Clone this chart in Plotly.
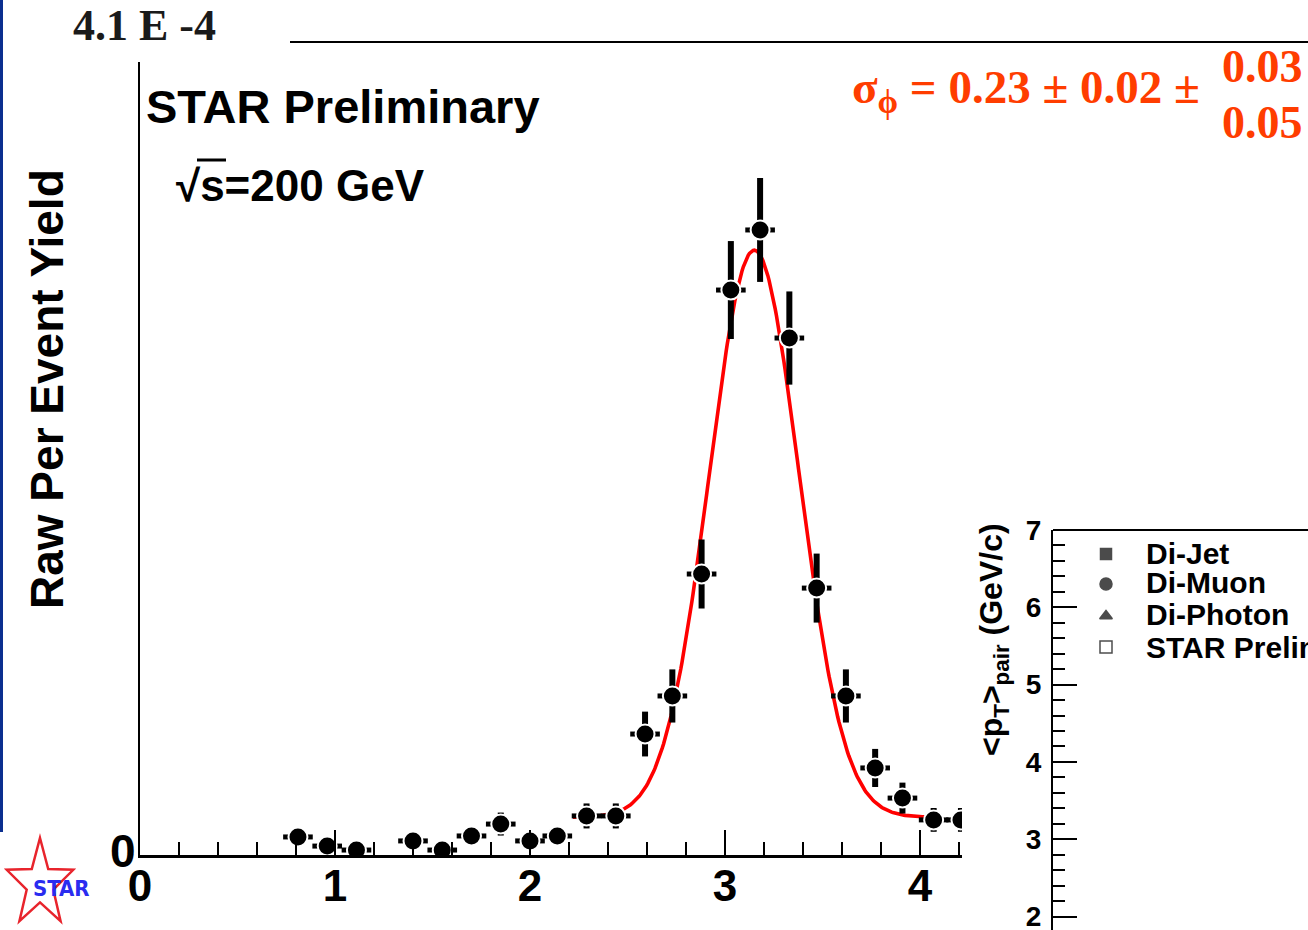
import numpy as np
import plotly.graph_objects as go

W, H = 1308, 930

# ---- Δφ distribution: bin centres (rad), raw per-event yield and errors (units of 1e-4)
dphi = [0.81, 0.96, 1.11, 1.40, 1.55, 1.70, 1.85, 2.00, 2.14, 2.29, 2.44, 2.59,
        2.73, 2.88, 3.03, 3.18, 3.33, 3.47, 3.62, 3.77, 3.91, 4.07, 4.21]
yield_e4 = [0.091, 0.045, 0.025, 0.071, 0.025, 0.096, 0.156, 0.071, 0.096, 0.197,
            0.197, 0.610, 0.802, 1.417, 2.849, 3.152, 2.607, 1.346, 0.802, 0.439,
            0.287, 0.177, 0.177]
yield_err_e4 = [0.040, 0.040, 0.040, 0.040, 0.040, 0.040, 0.058, 0.040, 0.040, 0.063,
                0.063, 0.113, 0.134, 0.174, 0.247, 0.262, 0.235, 0.174, 0.134, 0.096,
                0.078, 0.060, 0.060]
dphi_half_bin = 0.076

# ---- Gaussian + constant fit of the away-side peak
fit_mean = 3.15
fit_sigma = 0.23
fit_amp = 2.86
fit_base = 0.19
fit_lo, fit_hi = 2.22, 4.10

x_ticks = [0, 1, 2, 3, 4]

# ---- inset <pT>pair panel
inset_labels = ["Di-Jet", "Di-Muon", "Di-Photon", "STAR Preliminary"]
inset_symbols = ["square", "circle", "triangle-up", "square-open"]
inset_yticks = [2, 3, 4, 5, 6, 7]


def fx(px):
    return px / W


def fy(py):
    return 1 - py / H


# main panel geometry (pixels)
X0, X1, Y0, Y1 = 140, 962, 855, 62
PX_PER_X = 195.0
PX_PER_Y = 198.3

fit_x = np.linspace(fit_lo, fit_hi, 300)
fit_y = fit_base + fit_amp * np.exp(-0.5 * ((fit_x - fit_mean) / fit_sigma) ** 2)

SANS = "Liberation Sans, Arial, Helvetica, sans-serif"
SERIF = "Liberation Serif, Times New Roman, serif"
RED = "#ff3d00"

fig = go.Figure()

fig.add_trace(go.Scatter(
    x=fit_x, y=fit_y, mode="lines",
    line=dict(color="#ff0000", width=3.6),
    hoverinfo="skip", showlegend=False,
))

fig.add_trace(go.Scatter(
    x=dphi, y=yield_e4, mode="markers",
    marker=dict(size=19, color="black", line=dict(color="white", width=2)),
    error_y=dict(type="data", array=yield_err_e4, thickness=6, width=0, color="black"),
    error_x=dict(type="constant", value=dphi_half_bin, thickness=5, width=0, color="black"),
    cliponaxis=True, showlegend=False,
))

# inset markers (legend of the <pT>pair panel)
inset_y_px = [554, 584, 616, 647]
inset_ymax = 7.0
inset_px_per = 77.3
inset_ymin = inset_ymax - (H - 530) / inset_px_per
fig.add_trace(go.Scatter(
    x=[(1106 - 1053) / (W - 1053)] * len(inset_labels),
    y=[inset_ymax - (p - 530) / inset_px_per for p in inset_y_px],
    mode="markers",
    marker=dict(symbol=inset_symbols, size=[11, 12, 11, 12], color="black",
                line=dict(color="black", width=1.5)),
    xaxis="x2", yaxis="y2", showlegend=False, hoverinfo="skip",
))

fig.update_layout(
    width=W, height=H, autosize=False,
    margin=dict(l=0, r=0, t=0, b=0, pad=0, autoexpand=False),
    paper_bgcolor="white", plot_bgcolor="rgba(0,0,0,0)",
    showlegend=False,
    xaxis=dict(
        domain=[fx(X0), fx(X1)], range=[0, (X1 - X0) / PX_PER_X],
        showgrid=False, zeroline=False, automargin=False,
        showline=True, linecolor="black", linewidth=3,
        ticks="inside", ticklen=25, tickwidth=2, tickcolor="black",
        tickvals=x_ticks, ticktext=[str(v) for v in x_ticks],
        tickfont=dict(family=SANS, size=44, color="black", weight="bold"),
        ticklabelstandoff=-10,
        minor=dict(dtick=0.2, tick0=0, ticks="inside", ticklen=13, tickwidth=2, tickcolor="black"),
        anchor="y",
    ),
    yaxis=dict(
        domain=[fy(Y0), fy(Y1)], range=[0, (Y0 - Y1) / PX_PER_Y],
        showgrid=False, zeroline=False, automargin=False,
        showline=True, linecolor="black", linewidth=2,
        ticks="", showticklabels=False, anchor="x",
    ),
    xaxis2=dict(domain=[fx(1053), 1.0], range=[0, 1], visible=False, anchor="y2",
                automargin=False),
    yaxis2=dict(
        domain=[0, fy(530)], range=[inset_ymin, inset_ymax],
        showgrid=False, zeroline=False, automargin=False,
        showline=True, linecolor="black", linewidth=2,
        ticks="inside", ticklen=24, tickwidth=2, tickcolor="black",
        tickvals=inset_yticks,
        tickfont=dict(family=SANS, size=28, color="black", weight="bold"),
        ticklabelstandoff=4, ticklabeloverflow="allow",
        minor=dict(dtick=0.2, tick0=0, ticks="inside", ticklen=12, tickwidth=2, tickcolor="black"),
        anchor="x2",
    ),
)

ann = []


def text(x, y, s, size, family=SANS, color="black", xanchor="left", yanchor="middle", angle=0):
    ann.append(dict(
        x=fx(x), y=fy(y), xref="paper", yref="paper", text=s, showarrow=False,
        xanchor=xanchor, yanchor=yanchor, textangle=angle,
        font=dict(family=family, size=size, color=color, weight="bold"),
    ))


text(71, 26, "4.1 E -4", 44, family=SERIF, color="#1a1a1a")
text(47, 389, "Raw Per Event Yield", 46, xanchor="center", angle=-90)
text(138, 851, "0", 46, xanchor="right")
text(144, 107, "STAR Preliminary", 47)
text(174, 186, "√s=200 GeV", 44)

# fit result label
text(1202, 90, "σ<sub>ϕ</sub> = 0.23 ± 0.02 ±", 47, family=SERIF, color=RED, xanchor="right")
text(1220, 67, "0.03", 46, family=SERIF, color=RED)
text(1220, 122, "0.05", 46, family=SERIF, color=RED)

# inset texts
text(993, 639, "&lt;p<sub>T</sub>&gt;<sub>pair</sub> (GeV/c)", 32, xanchor="center", angle=-90)
for lab, yp in zip(inset_labels, [553, 582, 614, 647]):
    text(1144, yp, lab, 30)

# STAR logo text
text(61, 888, "STAR", 22, family="Liberation Sans Narrow, DejaVu Sans Condensed, Arial Narrow, sans-serif",
     color="#2a2cf0", xanchor="center")

fig.update_layout(annotations=ann)

# star outline of the logo
cx, cy, rx, ry, ri = 40, 884, 35, 46, 0.40
pts = []
for k in range(10):
    a = -np.pi / 2 + k * np.pi / 5
    f = 1.0 if k % 2 == 0 else ri
    pts.append((cx + rx * f * np.cos(a), cy + ry * f * np.sin(a)))
star_path = "M " + " L ".join(f"{fx(px):.5f},{fy(py):.5f}" for px, py in pts) + " Z"

shapes = [
    # slide frame strip
    dict(type="rect", xref="paper", yref="paper", x0=0, x1=fx(3), y0=fy(832), y1=1,
         fillcolor="#0b2f8f", line=dict(width=0), layer="above"),
    # rule under the exponent label
    dict(type="line", xref="paper", yref="paper", x0=fx(290), x1=1.0, y0=fy(42), y1=fy(42),
         line=dict(color="black", width=2)),
    # inset top frame
    dict(type="line", xref="paper", yref="paper", x0=fx(1053), x1=1.0, y0=fy(530), y1=fy(530),
         line=dict(color="black", width=2)),
    # bar over the s of √s
    dict(type="line", xref="paper", yref="paper", x0=fx(197), x1=fx(226), y0=fy(160), y1=fy(160),
         line=dict(color="black", width=3)),
    dict(type="path", xref="paper", yref="paper", path=star_path,
         line=dict(color="#e8242c", width=2.5), fillcolor="rgba(0,0,0,0)"),
]
fig.update_layout(shapes=shapes)

fig.write_html("out.html")
